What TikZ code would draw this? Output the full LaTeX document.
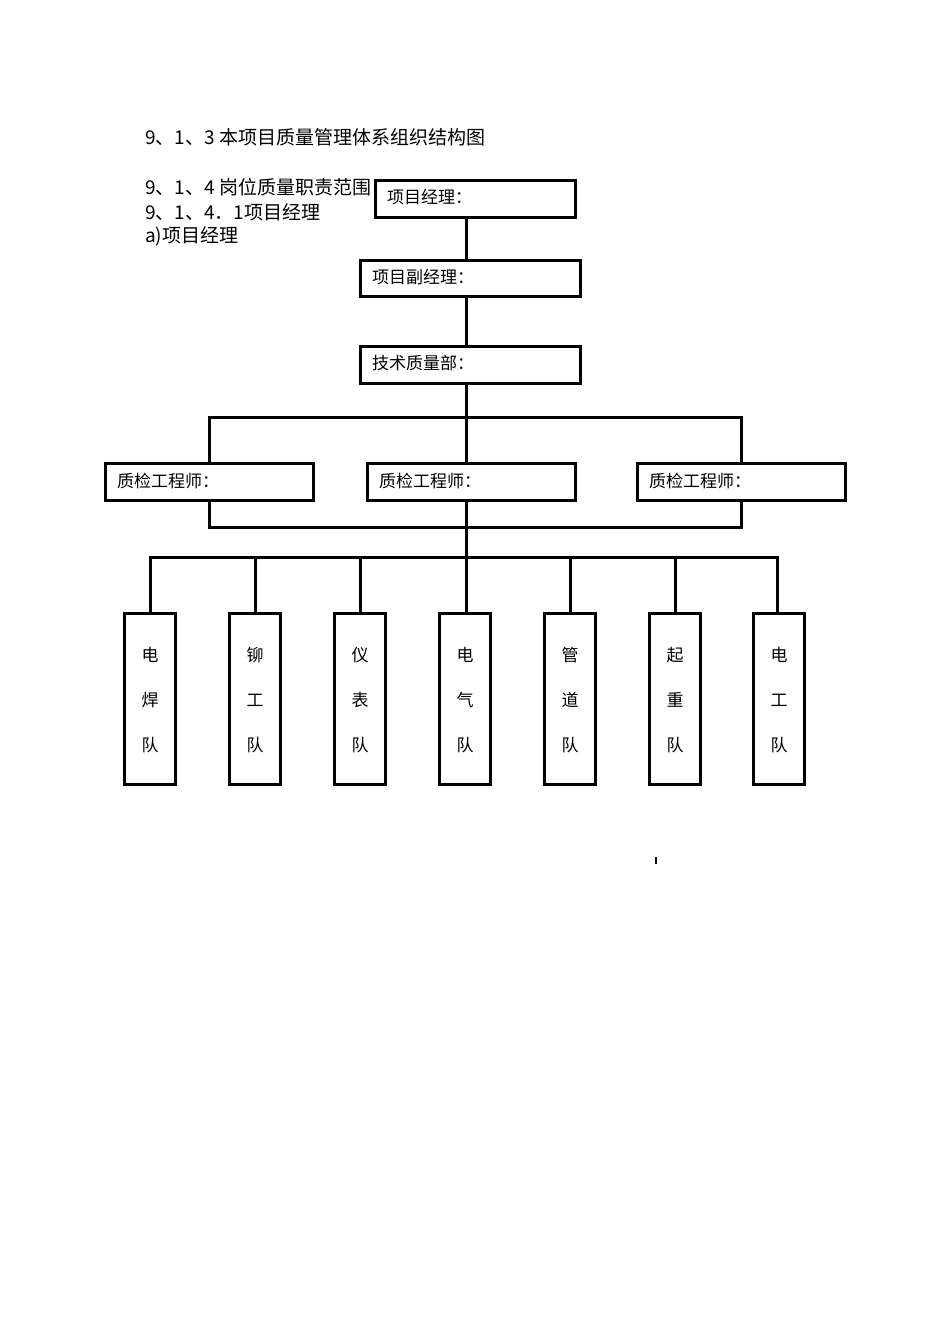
\documentclass[tikz,border=0pt]{standalone}
\usepackage{fontspec}
\setmainfont{Noto Sans CJK SC}
\begin{document}
\begin{tikzpicture}[x=1pt,y=-1pt,
  bx/.style={draw,line width=3pt,fill=white,inner sep=0pt,anchor=north west},
  ln/.style={line width=3pt},
  tx/.style={anchor=west,inner sep=0pt,font=\fontsize{19}{21}\selectfont}]
\useasboundingbox (0,0) rectangle (950,1344);
\node[tx] (t1) at (145,137) {9、1、3 本项目质量管理体系组织结构图};
\node[tx] (t2) at (145,187) {9、1、4 岗位质量职责范围};
\node[tx] (t3) at (145,212) {9、1、4．1项目经理};
\node[tx] (t4) at (145,236) {a)项目经理};
\def\bigbox#1#2#3#4#5#6{\node[bx,minimum width=#4-#2,minimum height=#5-#3] (#1) at (#2,#3) {};
  \node[anchor=west,inner sep=0pt,font=\fontsize{17}{19}\selectfont] (#1t) at ($(#2,#3)!0.5!(#2,#5)+(13,0)$) {#6};}
\usetikzlibrary{calc}
\coordinate (c1) at (466,216);
\draw[ln] (466,216) -- (466,259);
\draw[ln] (466,295) -- (466,345);
\draw[ln] (466,382) -- (466,612);
\draw[ln] (209,462) -- (209,417) -- (741,417) -- (741,462);
\draw[ln] (209,499) -- (209,527) -- (741,527) -- (741,499);
\draw[ln] (150,612) -- (150,557) -- (777,557) -- (777,612);
\foreach \x in {255,360,570,675} \draw[ln] (\x,557) -- (\x,612);
\bigbox{pm}{374}{179}{574}{216}{项目经理：}
\bigbox{dpm}{359}{259}{579}{295}{项目副经理：}
\bigbox{tq}{359}{345}{579}{382}{技术质量部：}
\bigbox{qa}{104}{462}{312}{499}{质检工程师：}
\bigbox{qb}{366}{462}{574}{499}{质检工程师：}
\bigbox{qc}{636}{462}{844}{499}{质检工程师：}
\foreach \x/\a/\b/\c [count=\i] in {150/电/焊/队,255/铆/工/队,360/仪/表/队,465/电/气/队,570/管/道/队,675/起/重/队,779/电/工/队}{
  \node[draw,line width=3pt,minimum width=51,minimum height=171,anchor=north,inner sep=0pt] (team\i) at (\x,612) {};
  \node[font=\fontsize{17}{19}\selectfont,inner sep=0pt] (ta\i) at (\x,655) {\a};
  \node[font=\fontsize{17}{19}\selectfont,inner sep=0pt] (tb\i) at (\x,700) {\b};
  \node[font=\fontsize{17}{19}\selectfont,inner sep=0pt] (tc\i) at (\x,745) {\c};
}
\draw[line width=2pt] (656,857) -- (656,864);
\end{tikzpicture}
\end{document}
